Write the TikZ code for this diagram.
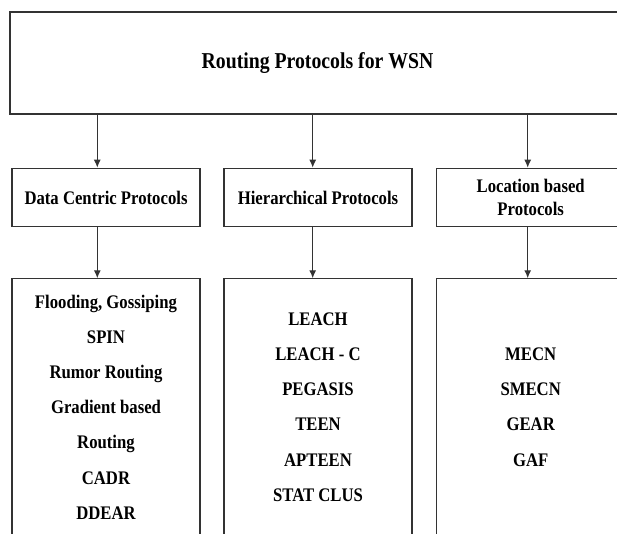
\documentclass[tikz,border=0pt]{standalone}
\usepackage{fontspec}
\setmainfont{Liberation Serif}[FakeStretch=0.87]
\usetikzlibrary{arrows.meta}

\begin{document}
\begin{tikzpicture}[x=1pt, y=-1pt, >={Latex[length=8pt, width=7pt]},
  box/.style={draw=black!80, line width=1.2pt, align=center, font=\fontsize{19.2}{23}\selectfont\bfseries},
  midbox/.style={box, minimum width=188pt, minimum height=58.4pt},
  listbox/.style={box, minimum width=188pt, minimum height=256.3pt, font=\fontsize{19.2}{35.2}\selectfont\bfseries},
  arr/.style={->, draw=black!80, line width=1.2pt}]

\useasboundingbox (0,0) rectangle (617,533);

% Define the nodes with coordinates
\node[box, minimum width=615pt, minimum height=102pt, font=\fontsize{22.7}{27}\selectfont\bfseries] (WSN) at (317.5,63) {Routing Protocols for WSN};

\node[midbox] (DC) at (106,197.5) {Data Centric Protocols};
\node[midbox] (HP) at (318,197.5) {Hierarchical Protocols};
\node[midbox] (LB) at (530.7,197.5) {Location based\\Protocols};

\node[listbox] (DCL) at (106,407) {Flooding, Gossiping\\SPIN\\Rumor Routing\\Gradient based\\Routing\\CADR\\DDEAR};
\node[listbox] (HPL) at (318,407) {LEACH\\LEACH - C\\PEGASIS\\TEEN\\APTEEN\\STAT CLUS};
\node[listbox] (LBL) at (530.7,407) {MECN\\SMECN\\GEAR\\GAF};

% Arrow columns
\coordinate (DCX) at (97.3,0);
\coordinate (HPX) at (312.7,0);
\coordinate (LBX) at (527.7,0);

% Draw the arrows
\draw[arr] (DCX |- WSN.south) -- (DCX |- DC.north);
\draw[arr] (HPX |- WSN.south) -- (HPX |- HP.north);
\draw[arr] (LBX |- WSN.south) -- (LBX |- LB.north);
\draw[arr] (DCX |- DC.south) -- (DCX |- DCL.north);
\draw[arr] (HPX |- HP.south) -- (HPX |- HPL.north);
\draw[arr] (LBX |- LB.south) -- (LBX |- LBL.north);

\end{tikzpicture}
\end{document}
